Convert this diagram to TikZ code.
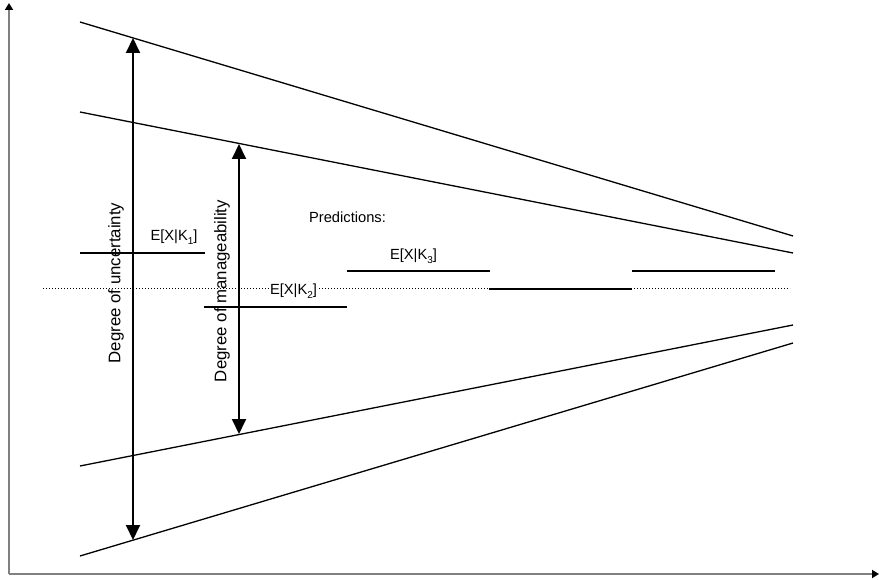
\documentclass[tikz,border=0pt]{standalone}
\usepackage{fontspec}
\setmainfont{Liberation Sans}
\usetikzlibrary{arrows.meta}
\newcommand{\lowidx}[1]{\raisebox{-0.45ex}{\fontsize{10}{10}\selectfont #1}}

\begin{document}
\begin{tikzpicture}[x=1pt,y=-1pt,
  axis/.style={draw=gray, line width=2pt, -{Triangle[length=7pt,width=8pt,color=black]}},
  bound/.style={line width=1.3pt},
  pred/.style={line width=1.3pt},
  mid/.style={line width=1pt, dash pattern=on 1pt off 2pt},
  span/.style={line width=2pt, {Triangle[length=15pt,width=14pt]}-{Triangle[length=15pt,width=14pt]}},
  lbl/.style={font=\fontsize{14.7}{16}\selectfont, inner sep=1pt, anchor=base},
  vlbl/.style={font=\fontsize{16.8}{18}\selectfont, rotate=90, inner sep=0pt}
]
\useasboundingbox (0,0) rectangle (879,580);

% axes
\coordinate (O) at (9,574);
\coordinate (Ytop) at (9,3);
\coordinate (Xend) at (879,574);
\draw[axis] (O) -- (Ytop);
\draw[axis] (O) -- (Xend);

% mean level
\coordinate (m0) at (43,289);
\coordinate (m1) at (790,289);
\draw[mid] (m0) -- (m1);

% outer and inner bounds
\coordinate (ot0) at (80,22);   \coordinate (ot1) at (793,236);
\coordinate (it0) at (80,112);  \coordinate (it1) at (793,253);
\coordinate (ib0) at (80,466);  \coordinate (ib1) at (793,325);
\coordinate (ob0) at (80,556);  \coordinate (ob1) at (793,343);
\draw[bound] (ot0) -- (ot1);
\draw[bound] (it0) -- (it1);
\draw[bound] (ib0) -- (ib1);
\draw[bound] (ob0) -- (ob1);

% spans
\coordinate (u0) at (133,38);  \coordinate (u1) at (133,540);
\coordinate (g0) at (239,144); \coordinate (g1) at (239,434);
\draw[span] (u0) -- (u1);
\draw[span] (g0) -- (g1);
\node[vlbl] (ulab) at (116,283) {Degree of uncertainty};
\node[vlbl] (glab) at (222,291) {Degree of manageability};

% prediction levels
\coordinate (p1a) at (80,253);  \coordinate (p1b) at (205,253);
\coordinate (p2a) at (204,307); \coordinate (p2b) at (347,307);
\coordinate (p3a) at (347,271); \coordinate (p3b) at (490,271);
\coordinate (p4a) at (489,289); \coordinate (p4b) at (632,289);
\coordinate (p5a) at (632,271); \coordinate (p5b) at (775,271);
\draw[pred] (p1a) -- (p1b);
\draw[pred] (p2a) -- (p2b);
\draw[pred] (p3a) -- (p3b);
\draw[pred] (p4a) -- (p4b);
\draw[pred] (p5a) -- (p5b);

\node[lbl] (k1) at (174,241) {E[X|K\lowidx{1}]};
\node[lbl, fill=white] (k2) at (293.5,295) {E[X|K\lowidx{2}]};
\node[lbl] (k3) at (413.5,260) {E[X|K\lowidx{3}]};
\node[lbl] (pr) at (347.5,223) {Predictions:};
\end{tikzpicture}
\end{document}
